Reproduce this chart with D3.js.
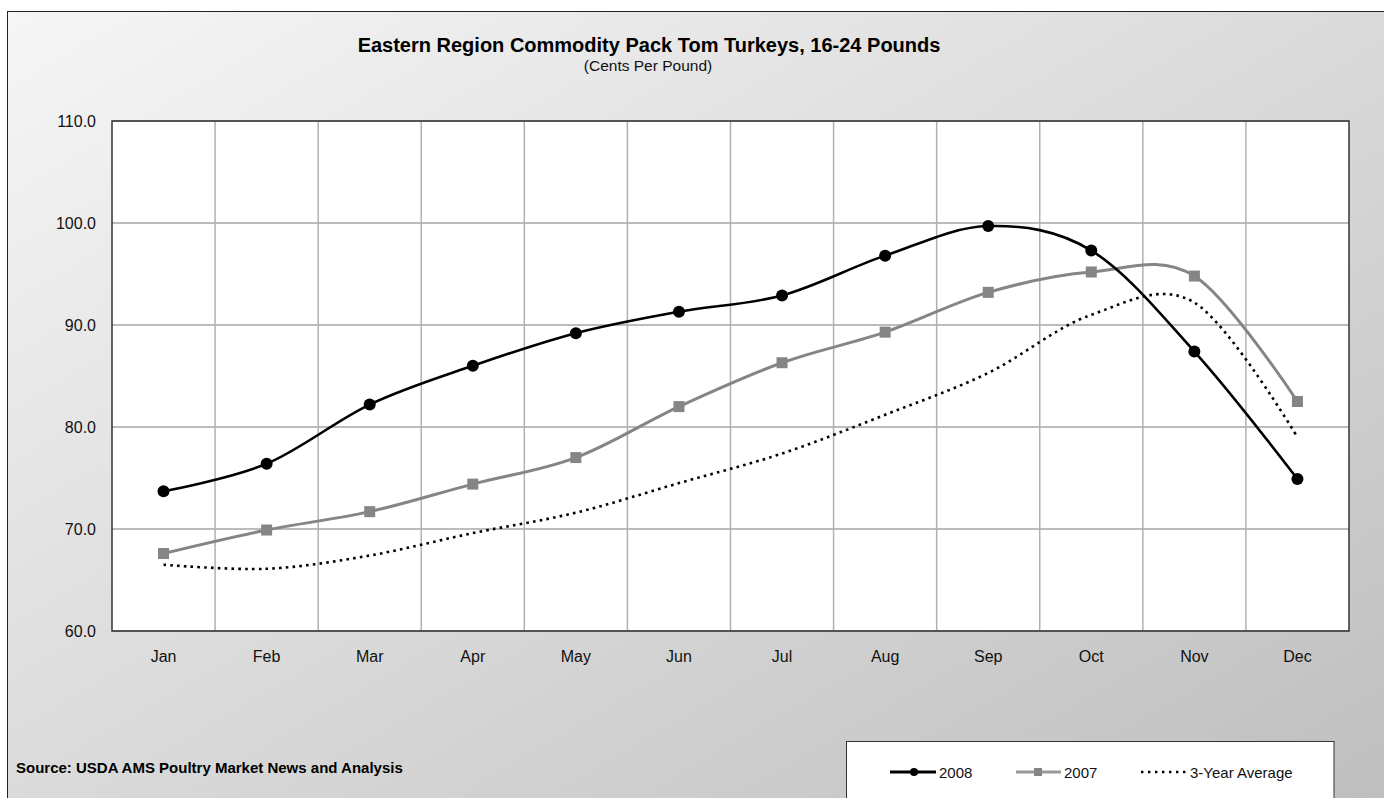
<!DOCTYPE html>
<html>
<head>
<meta charset="utf-8">
<script src="https://cdn.jsdelivr.net/npm/d3@7"></script>
<style>
  html, body { margin: 0; padding: 0; background: #fff; }
  svg { display: block; font-family: "Liberation Sans", Arial, sans-serif; }
</style>
</head>
<body>
<svg id="chart" width="1384" height="798"></svg>
<script>
// ---- data ----
const months = ["Jan","Feb","Mar","Apr","May","Jun","Jul","Aug","Sep","Oct","Nov","Dec"];
const series2008 = [73.7, 76.4, 82.2, 86.0, 89.2, 91.3, 92.9, 96.8, 99.7, 97.3, 87.4, 74.9];
const series2007 = [67.6, 69.9, 71.7, 74.4, 77.0, 82.0, 86.3, 89.3, 93.2, 95.2, 94.8, 82.5];
const series3yr  = [66.5, 66.1, 67.4, 69.6, 71.6, 74.5, 77.4, 81.2, 85.3, 91.0, 92.2, 79.0];
const yTicks = [60, 70, 80, 90, 100, 110];
const titleText = "Eastern Region Commodity Pack Tom Turkeys, 16-24 Pounds";
const subtitleText = "(Cents Per Pound)";
const sourceText = "Source: USDA AMS Poultry Market News and Analysis";
const legendLabels = ["2008", "2007", "3-Year Average"];

// ---- layout ----
const W = 1384, H = 798;
const plot = { left: 112, top: 121, right: 1349, bottom: 631 };

const svg = d3.select("#chart");
const defs = svg.append("defs");
const grad = defs.append("linearGradient").attr("id", "bg")
  .attr("x1", 0).attr("y1", 0).attr("x2", 1).attr("y2", 1);
grad.append("stop").attr("offset", "0%").attr("stop-color", "#f6f6f6");
grad.append("stop").attr("offset", "100%").attr("stop-color", "#bdbdbd");

// chart area background + border
svg.append("rect")
  .attr("x", 7.5).attr("y", 11.5).attr("width", W + 20).attr("height", H + 20)
  .attr("fill", "url(#bg)").attr("stroke", "#222").attr("stroke-width", 1);

// scales
const x = d3.scaleBand().domain(months).range([plot.left, plot.right]).padding(0);
const y = d3.scaleLinear().domain([60, 110]).range([plot.bottom, plot.top]);
const cx = d => x(d) + x.bandwidth() / 2;

// plot background
svg.append("rect")
  .attr("x", plot.left).attr("y", plot.top)
  .attr("width", plot.right - plot.left).attr("height", plot.bottom - plot.top)
  .attr("fill", "#fff");

// gridlines
const grid = svg.append("g");
grid.selectAll("line.h").data(yTicks).join("line")
  .attr("x1", plot.left).attr("x2", plot.right)
  .attr("y1", d => y(d)).attr("y2", d => y(d))
  .attr("stroke", "#a6a6a6").attr("stroke-width", 1.5);
grid.selectAll("line.v").data(months.slice(1)).join("line")
  .attr("x1", d => x(d)).attr("x2", d => x(d))
  .attr("y1", plot.top).attr("y2", plot.bottom)
  .attr("stroke", "#b0b0b0").attr("stroke-width", 1.5);

// plot border
svg.append("rect")
  .attr("x", plot.left).attr("y", plot.top)
  .attr("width", plot.right - plot.left).attr("height", plot.bottom - plot.top)
  .attr("fill", "none").attr("stroke", "#333").attr("stroke-width", 1.5);

// axes labels via d3 axes
const yAxis = svg.append("g")
  .attr("transform", `translate(${plot.left},0)`)
  .call(d3.axisLeft(y).tickValues(yTicks).tickFormat(d3.format(".1f")).tickSize(0).tickPadding(16));
yAxis.select(".domain").remove();
yAxis.selectAll("text").attr("font-size", 16).attr("fill", "#111")
  .attr("font-family", "Liberation Sans, Arial, sans-serif");

const xAxis = svg.append("g")
  .attr("transform", `translate(0,${plot.bottom})`)
  .call(d3.axisBottom(x).tickSize(0).tickPadding(20));
xAxis.select(".domain").remove();
xAxis.selectAll("text").attr("font-size", 16).attr("fill", "#111")
  .attr("font-family", "Liberation Sans, Arial, sans-serif");

// lines
const line = d3.line()
  .x((d, i) => cx(months[i]))
  .y(d => y(d))
  .curve(d3.curveCardinal.tension(0));

svg.append("path").datum(series3yr)
  .attr("d", line).attr("fill", "none")
  .attr("stroke", "#000").attr("stroke-width", 2.6)
  .attr("stroke-dasharray", "2.6,4.2");

svg.append("path").datum(series2007)
  .attr("d", line).attr("fill", "none")
  .attr("stroke", "#858585").attr("stroke-width", 3);

svg.append("path").datum(series2008)
  .attr("d", line).attr("fill", "none")
  .attr("stroke", "#000").attr("stroke-width", 2.6);

// markers
svg.append("g").selectAll("rect").data(series2007).join("rect")
  .attr("x", (d, i) => cx(months[i]) - 5.5)
  .attr("y", d => y(d) - 5.5)
  .attr("width", 11).attr("height", 11)
  .attr("fill", "#858585");

svg.append("g").selectAll("circle").data(series2008).join("circle")
  .attr("cx", (d, i) => cx(months[i]))
  .attr("cy", d => y(d))
  .attr("r", 6).attr("fill", "#000");

// titles
svg.append("text").attr("x", 649).attr("y", 52)
  .attr("text-anchor", "middle").attr("font-size", 20).attr("font-weight", "bold")
  .attr("fill", "#000").text(titleText);
svg.append("text").attr("x", 648).attr("y", 71)
  .attr("text-anchor", "middle").attr("font-size", 15.5)
  .attr("fill", "#111").text(subtitleText);

// source
svg.append("text").attr("x", 16).attr("y", 773)
  .attr("font-size", 15).attr("font-weight", "bold")
  .attr("fill", "#000").text(sourceText);

// legend
const lg = svg.append("g");
lg.append("rect").attr("x", 846.5).attr("y", 741.5)
  .attr("width", 1334 - 846.5).attr("height", 80)
  .attr("fill", "#fff").attr("stroke", "#333").attr("stroke-width", 1);
const ly = 772;
// 2008
lg.append("line").attr("x1", 890).attr("x2", 936).attr("y1", ly).attr("y2", ly)
  .attr("stroke", "#000").attr("stroke-width", 3);
lg.append("circle").attr("cx", 914).attr("cy", ly).attr("r", 4).attr("fill", "#000");
lg.append("text").attr("x", 939).attr("y", ly + 6).attr("font-size", 15).attr("fill", "#111").text(legendLabels[0]);
// 2007
lg.append("line").attr("x1", 1016).attr("x2", 1061).attr("y1", ly).attr("y2", ly)
  .attr("stroke", "#9a9a9a").attr("stroke-width", 3);
lg.append("rect").attr("x", 1034).attr("y", ly - 4).attr("width", 8).attr("height", 8).attr("fill", "#858585");
lg.append("text").attr("x", 1064).attr("y", ly + 6).attr("font-size", 15).attr("fill", "#111").text(legendLabels[1]);
// 3-yr
lg.append("line").attr("x1", 1141).attr("x2", 1186).attr("y1", ly).attr("y2", ly)
  .attr("stroke", "#000").attr("stroke-width", 2.4).attr("stroke-dasharray", "2.4,4.6");
lg.append("text").attr("x", 1190).attr("y", ly + 6).attr("font-size", 15).attr("fill", "#111").text(legendLabels[2]);
</script>
</body>
</html>
